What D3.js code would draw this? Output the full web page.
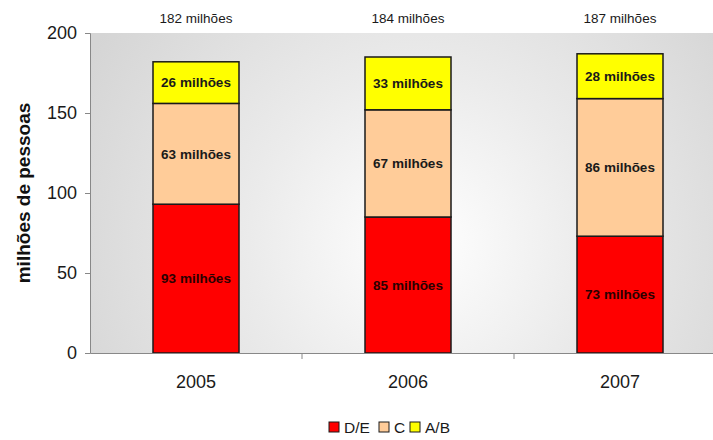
<!DOCTYPE html>
<html>
<head>
<meta charset="utf-8">
<script src="https://cdn.jsdelivr.net/npm/d3@7"></script>
<style>
  html, body { margin: 0; padding: 0; background: #fff; }
  svg { display: block; font-family: "Liberation Sans", Arial, sans-serif; }
</style>
</head>
<body>
<svg id="chart" width="713" height="440"></svg>
<script>
// Population by social class, Brazil (millions of people)
const years = ["2005", "2006", "2007"];
const classes = ["D/E", "C", "A/B"];
const valuesDE = [93, 85, 73];
const valuesC = [63, 67, 86];
const valuesAB = [26, 33, 28];
const totalLabels = ["182 milhões", "184 milhões", "187 milhões"];
const yTicks = [0, 50, 100, 150, 200];
const classColors = ["#ff0000", "#ffcc99", "#ffff00"];

const svg = d3.select("#chart");
const margin = { left: 90, top: 33, bottom: 87 };
const plotW = 636;             // the plot runs past the right edge of the frame
const plotH = 440 - margin.top - margin.bottom;

const x = d3.scaleBand().domain(years).range([0, plotW]).paddingInner(0).paddingOuter(0);
const barW = 86;
const y = d3.scaleLinear().domain([0, 200]).range([plotH, 0]);

// soft radial background of the plot area
const defs = svg.append("defs");
const grad = defs.append("radialGradient").attr("id", "bg")
  .attr("gradientUnits", "userSpaceOnUse")
  .attr("cx", 330).attr("cy", 210).attr("r", 380);
grad.append("stop").attr("offset", "0%").attr("stop-color", "#ffffff");
grad.append("stop").attr("offset", "45%").attr("stop-color", "#ebebeb");
grad.append("stop").attr("offset", "100%").attr("stop-color", "#d5d5d5");

const g = svg.append("g").attr("transform", `translate(${margin.left},${margin.top})`);

g.append("rect").attr("x", 0).attr("y", 0).attr("width", plotW).attr("height", plotH)
  .attr("fill", "url(#bg)");

// stacked data
const rows = years.map((yr, i) => ({ year: yr, "D/E": valuesDE[i], "C": valuesC[i], "A/B": valuesAB[i] }));
const stack = d3.stack().keys(classes)(rows);

const layers = g.selectAll("g.layer").data(stack).join("g")
  .attr("class", "layer")
  .attr("fill", (d, i) => classColors[i]);

layers.selectAll("rect").data(d => d).join("rect")
  .attr("x", d => x(d.data.year) + (x.bandwidth() - barW) / 2)
  .attr("width", barW)
  .attr("y", d => y(d[1]))
  .attr("height", d => y(d[0]) - y(d[1]))
  .attr("stroke", "#1a1a1a")
  .attr("stroke-width", 1.5);

// segment labels
layers.selectAll("text").data(d => d.map(s => ({ s, key: d.key }))).join("text")
  .attr("x", d => x(d.s.data.year) + x.bandwidth() / 2)
  .attr("y", d => y((d.s[0] + d.s[1]) / 2))
  .attr("dy", "0.35em")
  .attr("text-anchor", "middle")
  .attr("font-size", 13.5)
  .attr("font-weight", "bold")
  .attr("fill", d => d.key === "D/E" ? "#2a0000" : "#1a1a1a")
  .text(d => `${d.s.data[d.key]} milhões`);

// totals above the plot
g.selectAll("text.total").data(years).join("text")
  .attr("class", "total")
  .attr("x", d => x(d) + x.bandwidth() / 2)
  .attr("y", -15)
  .attr("dy", "0.35em")
  .attr("text-anchor", "middle")
  .attr("font-size", 13.5)
  .attr("fill", "#1a1a1a")
  .text((d, i) => totalLabels[i]);

// y axis
const yAxis = g.append("g").call(d3.axisLeft(y).tickValues(yTicks).tickSize(5).tickPadding(8));
yAxis.select(".domain").attr("stroke", "#888");
yAxis.selectAll(".tick line").attr("stroke", "#888");
yAxis.selectAll(".tick text").attr("font-size", 18).attr("fill", "#1a1a1a")
  .attr("font-family", "Liberation Sans, Arial, sans-serif");

// x axis
const xAxis = g.append("g").attr("transform", `translate(0,${plotH})`)
  .call(d3.axisBottom(x).tickSize(0).tickPadding(22));
xAxis.select(".domain").attr("stroke", "#888");
xAxis.selectAll(".tick text").attr("font-size", 18).attr("fill", "#1a1a1a")
  .attr("font-family", "Liberation Sans, Arial, sans-serif");
// separators between the year bands
g.append("g").selectAll("line").data(years.slice(1)).join("line")
  .attr("x1", d => x(d)).attr("x2", d => x(d))
  .attr("y1", plotH).attr("y2", plotH + 6)
  .attr("stroke", "#888");

// y axis title
svg.append("text")
  .attr("transform", `translate(23,${margin.top + plotH / 2}) rotate(-90)`)
  .attr("text-anchor", "middle")
  .attr("dy", "0.35em")
  .attr("font-size", 19)
  .attr("font-weight", "bold")
  .attr("fill", "#111")
  .text("milhões de pessoas");

// legend
const legend = svg.append("g").attr("transform", "translate(329,422)");
const legendX = [0, 50, 81];
classes.forEach((c, i) => {
  const item = legend.append("g").attr("transform", `translate(${legendX[i]},0)`);
  item.append("rect").attr("width", 10).attr("height", 10)
    .attr("fill", classColors[i]).attr("stroke", "#1a1a1a").attr("stroke-width", 1);
  item.append("text").attr("x", 15).attr("y", 5).attr("dy", "0.36em")
    .attr("font-size", 15.5).attr("fill", "#1a1a1a").text(c);
});
</script>
</body>
</html>
